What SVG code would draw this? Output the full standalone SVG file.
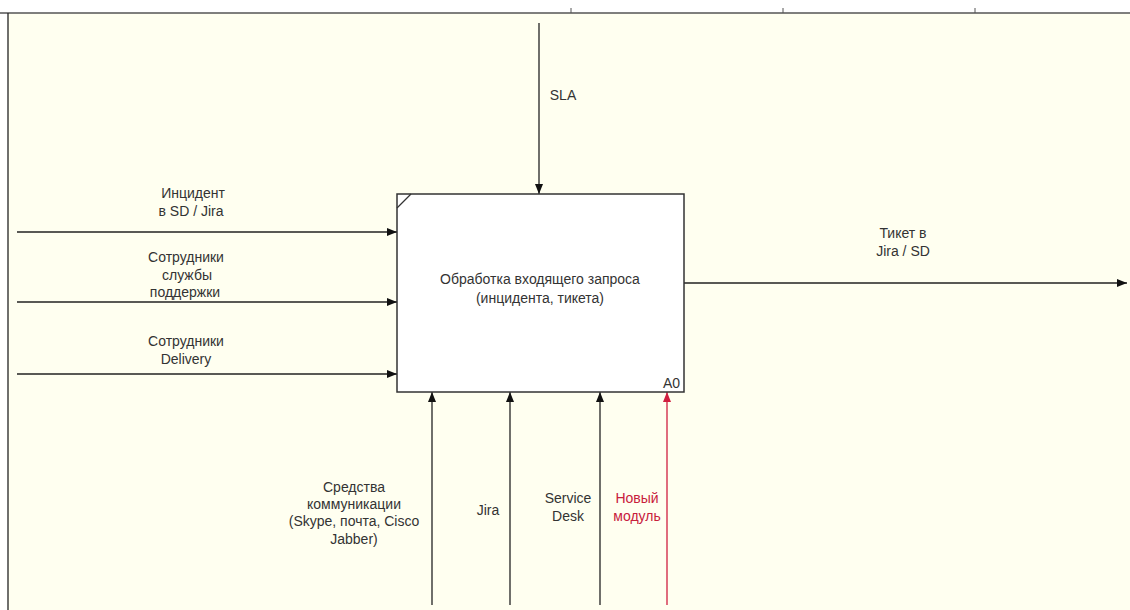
<svg xmlns="http://www.w3.org/2000/svg" width="1130" height="610" viewBox="0 0 1130 610">
<defs>
<style>
.lbl{font-family:"Liberation Sans",Arial,sans-serif;font-size:14px;fill:#333;text-anchor:middle}
.red{fill:#c8203c}
.ln{stroke:#222;stroke-width:1.3;fill:none}
.lnr{stroke:#d02040;stroke-width:1.3;fill:none}
</style>
<marker id="ah" viewBox="0 0 10 8" refX="10" refY="4" markerWidth="10" markerHeight="8" markerUnits="userSpaceOnUse" orient="auto"><path d="M0,0 L10,4 L0,8 Z" fill="#111"/></marker>
<marker id="ahr" viewBox="0 0 10 8" refX="10" refY="4" markerWidth="10" markerHeight="8" markerUnits="userSpaceOnUse" orient="auto"><path d="M0,0 L10,4 L0,8 Z" fill="#d02040"/></marker>
</defs>
<rect x="0" y="0" width="1130" height="610" fill="#ffffff"/>
<rect x="8" y="13" width="1122" height="597" fill="#fffff0"/>
<g id="frame">
<line x1="0" y1="13" x2="1130" y2="13" stroke="#555" stroke-width="1.3"/>
<line x1="8" y1="13" x2="8" y2="610" stroke="#222" stroke-width="1.3"/>
<line x1="571" y1="8" x2="571" y2="13" stroke="#555"/>
<line x1="783" y1="8" x2="783" y2="13" stroke="#555"/>
<line x1="975" y1="8" x2="975" y2="13" stroke="#555"/>
</g>
<g id="connectors">
<line class="ln" x1="539" y1="23" x2="539" y2="194" marker-end="url(#ah)"/>
<line class="ln" x1="17" y1="232" x2="397" y2="232" marker-end="url(#ah)"/>
<line class="ln" x1="17" y1="302" x2="397" y2="302" marker-end="url(#ah)"/>
<line class="ln" x1="17" y1="374" x2="397" y2="374" marker-end="url(#ah)"/>
<line class="ln" x1="684" y1="283" x2="1127" y2="283" marker-end="url(#ah)"/>
<line class="ln" x1="432" y1="605" x2="432" y2="392" marker-end="url(#ah)"/>
<line class="ln" x1="510" y1="605" x2="510" y2="392" marker-end="url(#ah)"/>
<line class="ln" x1="600" y1="605" x2="600" y2="392" marker-end="url(#ah)"/>
<line class="lnr" x1="667" y1="605" x2="667" y2="392" marker-end="url(#ahr)"/>
<text class="lbl" x="563" y="100">SLA</text>
<text class="lbl" x="193" y="198">Инцидент</text>
<text class="lbl" x="191" y="216">в SD / Jira</text>
<text class="lbl" x="186" y="262">Сотрудники</text>
<text class="lbl" x="187" y="280">службы</text>
<text class="lbl" x="185" y="297">поддержки</text>
<text class="lbl" x="186" y="346">Сотрудники</text>
<text class="lbl" x="186" y="364">Delivery</text>
<text class="lbl" x="903" y="238">Тикет в</text>
<text class="lbl" x="903" y="256">Jira / SD</text>
<text class="lbl" x="354" y="492">Средства</text>
<text class="lbl" x="354" y="509">коммуникации</text>
<text class="lbl" x="354" y="526">(Skype, почта, Cisco</text>
<text class="lbl" x="354" y="544">Jabber)</text>
<text class="lbl" x="488" y="515">Jira</text>
<text class="lbl" x="568" y="503">Service</text>
<text class="lbl" x="568" y="521">Desk</text>
<text class="lbl red" x="637" y="503">Новый</text>
<text class="lbl red" x="637" y="521">модуль</text>
</g>
<g id="A0">
<rect x="397" y="194" width="287" height="198" fill="#ffffff" stroke="#333" stroke-width="1.5"/>
<line x1="397" y1="208" x2="411" y2="194" stroke="#333" stroke-width="1.2"/>
<text class="lbl" x="540" y="284">Обработка входящего запроса</text>
<text class="lbl" x="540" y="303">(инцидента, тикета)</text>
<text class="lbl" x="680" y="388" style="text-anchor:end">A0</text>
</g>
</svg>
